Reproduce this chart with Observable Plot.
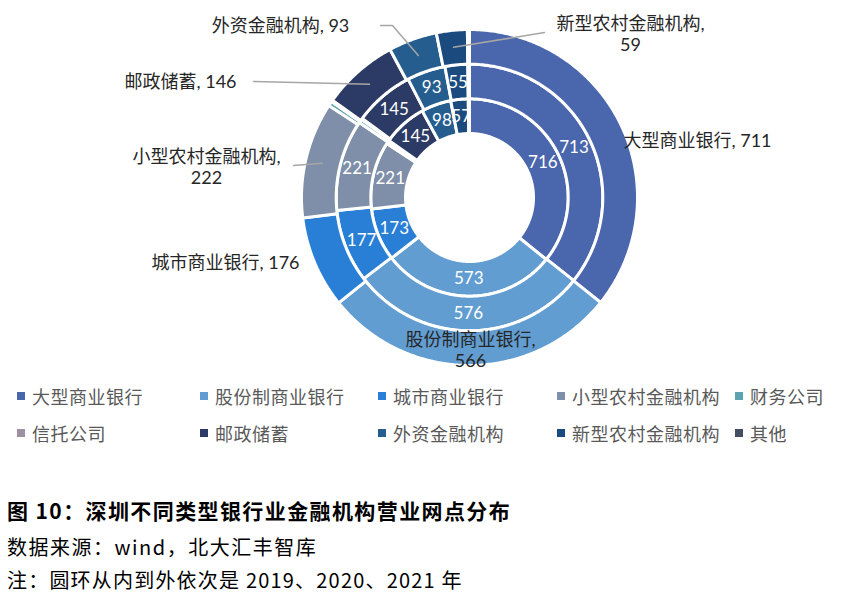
<!DOCTYPE html>
<html><head><meta charset="utf-8">
<script src="https://cdn.jsdelivr.net/npm/d3@7"></script>
<script src="https://cdn.jsdelivr.net/npm/@observablehq/plot@0.6"></script>
<style>
body{margin:0;background:#fff;}
#wrap{position:relative;width:844px;height:596px;overflow:hidden;font-family:"Noto Sans CJK SC",sans-serif;}
#chart{position:absolute;left:0;top:0;}
.leg{position:absolute;display:flex;align-items:center;height:24px;font-size:18px;color:#595959;white-space:nowrap;letter-spacing:0.5px;}
.leg i{display:inline-block;width:8px;height:8px;margin-right:7px;}
.cap{position:absolute;left:7px;white-space:nowrap;color:#000;line-height:30px;}
</style></head><body><div id="wrap"><div id="chart"></div></div>
<script>
// ---- data ----
const categories = ["大型商业银行","股份制商业银行","城市商业银行","小型农村金融机构","财务公司","信托公司","邮政储蓄","外资金融机构","新型农村金融机构","其他"];
const colors = ["#4A66AC","#629DD1","#297FD5","#7F8FA9","#5AA2AE","#9D90A0","#2C3A66","#245D8E","#1A4A7E","#434D63"];
const years = ["2019","2020","2021"];
const v2019 = [716,573,173,221,9,3,145,98,57,4];
const v2020 = [713,576,177,221,9,3,145,93,55,4];
const v2021 = [711,566,176,222,9,3,146,93,59,4];
const series = [v2019, v2020, v2021];

// ---- layout ----
const W = 844, H = 382, CX = 469, CY = 197;
const ringRadii = [[64, 98.7], [98.7, 133.3], [133.3, 168]];
const leaderRadius = 151;
const minInnerLabel = 20;
const outerLabelLayout = [
  {category:"大型商业银行", px:697, py:140, wrap:false},
  {category:"股份制商业银行", px:470, py:349, wrap:true},
  {category:"城市商业银行", px:225, py:262, wrap:false},
  {category:"小型农村金融机构", px:206, py:166, wrap:true},
  {category:"邮政储蓄", px:180, py:81, wrap:false},
  {category:"外资金融机构", px:280, py:25, wrap:false},
  {category:"新型农村金融机构", px:630, py:33, wrap:true}
];
const leaderLayout = [
  {category:"邮政储蓄", pts:[[253,81]]},
  {category:"小型农村金融机构", pts:[[293,165]]},
  {category:"外资金融机构", pts:[[392,25],[380,25]]},
  {category:"新型农村金融机构", pts:[[544,32]]}
];
const toX = px => px - CX, toY = py => CY - py;
const polar = (r, a) => [r * Math.sin(a), r * Math.cos(a)];

// ---- geometry from data via d3.pie ----
const pie = d3.pie().sort(null).value(d => d.value);
const arcPts = [], innerLabels = [];
const arcsByYear = {};
years.forEach((yr, i) => {
  const rows = categories.map((c, j) => ({category: c, value: series[i][j]}));
  const arcs = pie(rows);
  arcsByYear[yr] = arcs;
  const [r0, r1] = ringRadii[i];
  arcs.forEach(a => {
    const key = yr + "-" + a.data.category;
    const n = Math.max(2, Math.ceil((a.endAngle - a.startAngle) / 0.01));
    for (let k = 0; k <= n; k++) {
      const t = a.startAngle + (a.endAngle - a.startAngle) * k / n;
      const [x, y] = polar(r1, t);
      arcPts.push({key, category: a.data.category, x, y});
    }
    for (let k = n; k >= 0; k--) {
      const t = a.startAngle + (a.endAngle - a.startAngle) * k / n;
      const [x, y] = polar(r0, t);
      arcPts.push({key, category: a.data.category, x, y});
    }
    if (i < 2 && a.data.value >= minInnerLabel) {
      const mid = (a.startAngle + a.endAngle) / 2;
      const [x, y] = polar((r0 + r1) / 2, mid);
      innerLabels.push({x, y, text: String(a.data.value)});
    }
  });
});

const outerArcs = arcsByYear["2021"];
const findArc = c => outerArcs.find(a => a.data.category === c);
const outerLabels = outerLabelLayout.map(l => {
  const v = findArc(l.category).data.value;
  return {x: toX(l.px), y: toY(l.py), text: l.wrap ? `${l.category},\n${v}` : `${l.category}, ${v}`};
});
const leaderPts = [];
leaderLayout.forEach(l => {
  const a = findArc(l.category);
  const [x, y] = polar(leaderRadius, (a.startAngle + a.endAngle) / 2);
  leaderPts.push({key: l.category, x, y});
  l.pts.forEach(([px, py]) => leaderPts.push({key: l.category, x: toX(px), y: toY(py)}));
});

const chart = Plot.plot({
  width: W, height: H, margin: 0,
  x: {domain: [-CX, W - CX], axis: null},
  y: {domain: [-(H - CY), CY], axis: null},
  color: {domain: categories, range: colors},
  style: {background: "transparent"},
  marks: [
    Plot.line(arcPts, {x: "x", y: "y", z: "key", fill: "category", stroke: "white", strokeWidth: 3, curve: "linear-closed"}),
    Plot.text(innerLabels, {x: "x", y: "y", text: "text", fill: "white", fontSize: 17, fontFamily: "Lato, 'Noto Sans', sans-serif"}),
    Plot.line(leaderPts, {x: "x", y: "y", z: "key", stroke: "#A6A6A6", strokeWidth: 1.5}),
    Plot.text(outerLabels, {x: "x", y: "y", text: "text", fill: "#262626", fontSize: 18, lineHeight: 1.2, fontFamily: "Lato, 'Noto Sans CJK SC', sans-serif"})
  ]
});
document.getElementById("chart").appendChild(chart);

// ---- legend ----
const wrap = document.getElementById("wrap");
const legendCols = [17, 200, 378, 557, 735];
const legendRows = [396, 433];
categories.forEach((c, j) => {
  const d = document.createElement("div");
  d.className = "leg";
  d.style.left = legendCols[j % 5] + "px";
  d.style.top = (legendRows[Math.floor(j / 5)] - 12) + "px";
  d.innerHTML = `<i style="background:${colors[j]}"></i><span>${c}</span>`;
  wrap.appendChild(d);
});

// ---- captions ----
const captions = [
  {text: "图 10：深圳不同类型银行业金融机构营业网点分布", y: 510, size: 21, weight: 700, ls: 1.4},
  {text: "数据来源：wind，北大汇丰智库", y: 547, size: 20, weight: 400, ls: 1.5},
  {text: "注：圆环从内到外依次是 2019、2020、2021 年", y: 580, size: 20, weight: 400, ls: 1.2}
];
captions.forEach(c => {
  const d = document.createElement("div");
  d.className = "cap";
  d.textContent = c.text;
  d.style.top = (c.y - 15) + "px";
  d.style.fontSize = c.size + "px";
  d.style.fontWeight = c.weight;
  d.style.letterSpacing = c.ls + "px";
  wrap.appendChild(d);
});
</script>
</body></html>
